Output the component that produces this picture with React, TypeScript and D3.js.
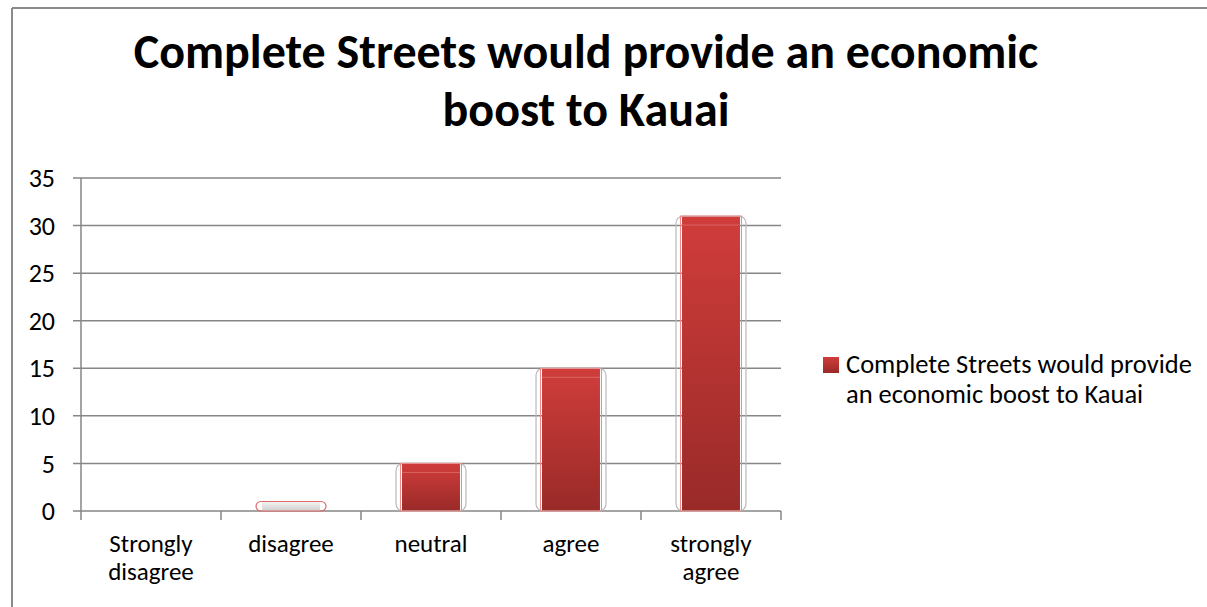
import React from 'react';
import * as d3 from 'd3';

const categories = ['Strongly disagree', 'disagree', 'neutral', 'agree', 'strongly agree'];
const values = [0, 1, 5, 15, 31];
const yTicks = [0, 5, 10, 15, 20, 25, 30, 35];
const titleLines = ['Complete Streets would provide an economic', 'boost to Kauai'];
const legendLines = ['Complete Streets would provide', 'an economic boost to Kauai'];

const W = 1207;
const H = 607;
const FONT = 'Carlito, Calibri, Lato, sans-serif';

function App() {
  const x = d3.scaleBand<string>().domain(categories).range([81, 781]);
  const y = d3.scaleLinear().domain([0, 35]).range([511, 178]);
  const barW = x.bandwidth() * 0.414;
  const capH = 12;

  // split long category names into two lines, like the original wrapping
  const wrap = (s: string) => (s.includes(' ') ? s.split(' ') : [s]);

  return (
    <svg width={W} height={H} style={{ position: 'absolute', left: 0, top: 0, background: '#fff' }}>
      <defs>
        <linearGradient id="redBar" x1="0" y1="0" x2="0" y2="1">
          <stop offset="0%" stopColor="#d03d3b" />
          <stop offset="100%" stopColor="#992a28" />
        </linearGradient>
        <linearGradient id="capBar" x1="0" y1="0" x2="0" y2="1">
          <stop offset="0%" stopColor="#f4f4f4" />
          <stop offset="100%" stopColor="#cfcfcf" />
        </linearGradient>
      </defs>

      {/* outer frame */}
      <line x1={12} x2={W} y1={8} y2={8} stroke="#8a8a8a" strokeWidth={2} />
      <line x1={12} x2={12} y1={8} y2={H} stroke="#8a8a8a" strokeWidth={2} />

      {/* title */}
      <text textAnchor="middle" fontFamily={FONT} fontWeight="bold" fontSize={48} fill="#000">
        {titleLines.map((t, i) => (
          <tspan key={i} x={586} y={68 + i * 58}>{t}</tspan>
        ))}
      </text>

      {/* gridlines + y ticks */}
      {yTicks.map((t) => (
        <g key={t}>
          <line x1={73} x2={781} y1={y(t)} y2={y(t)} stroke="#868686" strokeWidth={1.5} />
          <text x={55} y={y(t)} dy="0.35em" textAnchor="end" fontFamily={FONT} fontSize={26} fill="#000">
            {t}
          </text>
        </g>
      ))}
      <line x1={81} x2={81} y1={178} y2={511} stroke="#868686" strokeWidth={1.5} />

      {/* x ticks */}
      {[...categories.map((c) => x(c) as number), 781].map((tx, i) => (
        <line key={i} x1={tx} x2={tx} y1={511} y2={520} stroke="#868686" strokeWidth={1.5} />
      ))}

      {/* bars */}
      {categories.map((c, i) => {
        const v = values[i];
        if (v <= 0) return null;
        const cx = (x(c) as number) + x.bandwidth() / 2;
        const top = y(v);
        const h = y(0) - top;
        const small = h < capH;
        return (
          <g key={c}>
            <rect
              x={cx - barW / 2}
              y={top}
              width={barW}
              height={h}
              fill={small ? 'url(#capBar)' : 'url(#redBar)'}
            />
            <rect
              x={cx - barW / 2 - 6}
              y={top}
              width={barW + 12}
              height={h}
              rx={small ? h / 2 : 7}
              fill="none"
              stroke={small ? '#e06a68' : '#b9b9b9'}
              strokeWidth={1.2}
            />
            {!small && (
              <rect
                x={cx - barW / 2 - 1.5}
                y={top}
                width={barW + 3}
                height={h}
                fill="none"
                stroke="#ef8b89"
                strokeWidth={1}
              />
            )}
            {!small && (
              <line
                x1={cx - barW / 2}
                x2={cx + barW / 2}
                y1={top + 9}
                y2={top + 9}
                stroke="#e07775"
                strokeWidth={1}
                opacity={0.7}
              />
            )}
          </g>
        );
      })}

      {/* category labels */}
      {categories.map((c) => {
        const cx = (x(c) as number) + x.bandwidth() / 2;
        return (
          <text key={c} textAnchor="middle" fontFamily={FONT} fontSize={25} fill="#000">
            {wrap(c).map((l, j) => (
              <tspan key={j} x={cx} y={552 + j * 28}>{l}</tspan>
            ))}
          </text>
        );
      })}

      {/* legend */}
      <rect x={823} y={357} width={16} height={16} fill="url(#redBar)" />
      <text fontFamily={FONT} fontSize={26.5} fill="#000">
        {legendLines.map((l, j) => (
          <tspan key={j} x={846} y={373 + j * 30}>{l}</tspan>
        ))}
      </text>
    </svg>
  );
}

export default App;
